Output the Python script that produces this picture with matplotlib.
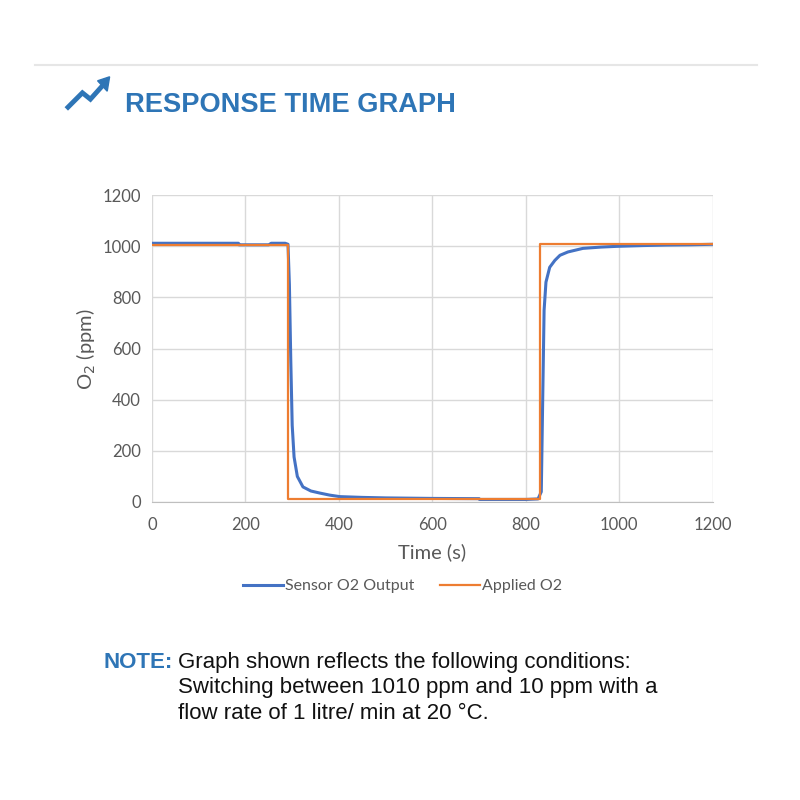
import matplotlib.pyplot as plt
from matplotlib.lines import Line2D
from matplotlib.patches import Polygon

# sensor output (time s, O2 ppm)
sensor_t = [0, 100, 185, 186, 250, 255, 285, 291, 294, 297, 300, 304, 311, 323, 340,
            359, 380, 402, 450, 500, 600, 700, 701, 800, 826, 833, 836, 839, 843,
            851, 862, 873, 890, 922, 960, 995, 1050, 1100, 1150, 1200]
sensor_o2 = [1012, 1012, 1012, 1006, 1006, 1012, 1012, 1008, 850, 550, 300, 176, 100,
             59, 43, 35, 27, 21, 18, 16, 14, 13, 10, 10, 12, 40, 400, 750, 860,
             918, 945, 965, 978, 992, 997, 1000, 1003, 1005, 1006, 1008]

# applied O2 step profile
applied_t = [0, 291, 291, 830, 830, 1200]
applied_o2 = [1005, 1005, 10, 10, 1010, 1010]

blue = '#2e75b6'
sans = ['Liberation Sans', 'DejaVu Sans']
calib = ['Lato', 'DejaVu Sans']

fig = plt.figure(figsize=(8, 8), dpi=100)

# header line, icon and title
fig.add_artist(Line2D([0.044, 0.946], [0.919, 0.919], color='#e6e6e6', lw=1.5))
fig.add_artist(Line2D([0.085, 0.103, 0.113, 0.130], [0.866, 0.884, 0.876, 0.895],
                      color=blue, lw=3.5, solid_joinstyle='miter'))
fig.add_artist(Polygon([[0.137, 0.904], [0.122, 0.899], [0.134, 0.886]],
                       closed=True, color=blue))
fig.text(0.156, 0.869, 'RESPONSE TIME GRAPH', color=blue, fontsize=19.6,
         fontweight='bold', family=sans, va='center')

ax = fig.add_axes([0.19, 0.3725, 0.701, 0.3835])
ax.plot(sensor_t, sensor_o2, color='#4472c4', lw=2.2, label='Sensor O2 Output', zorder=3)
ax.plot(applied_t, applied_o2, color='#ed7d31', lw=1.6, label='Applied O2', zorder=4)

ax.set_xlim(0, 1200)
ax.set_ylim(0, 1200)
ax.set_xticks(range(0, 1201, 200))
ax.set_yticks(range(0, 1201, 200))
ax.grid(True, color='#d9d9d9', lw=1)
ax.set_axisbelow(True)
for s in ['top', 'right', 'left']:
    ax.spines[s].set_visible(False)
ax.spines['bottom'].set_color('#bfbfbf')
ax.tick_params(length=0, labelsize=12, labelcolor='#595959')
ax.tick_params(axis='x', pad=11)
ax.tick_params(axis='y', pad=8)
for lab in ax.get_xticklabels() + ax.get_yticklabels():
    lab.set_family(calib)

ax.set_xlabel('Time (s)', fontsize=14.5, color='#595959', family=calib, labelpad=7)
ax.set_ylabel('O$_2$ (ppm)', fontsize=14.5, color='#595959', family=calib, labelpad=3)

leg = ax.legend(loc='upper center', bbox_to_anchor=(0.447, -0.205), ncol=2, frameon=False,
                fontsize=11.5, handlelength=2.5, columnspacing=1.6, handletextpad=0.15)
for t in leg.get_texts():
    t.set_color('#595959')
    t.set_family(calib)

# note under the chart
fig.text(0.129, 0.172, 'NOTE:', color=blue, fontsize=16, fontweight='bold',
         family=sans, va='center')
note_lines = ['Graph shown reflects the following conditions:',
              'Switching between 1010 ppm and 10 ppm with a',
              'flow rate of 1 litre/ min at 20 \u00b0C.']
for i, line in enumerate(note_lines):
    fig.text(0.222, 0.172 - i * 0.032, line, color='#111111', fontsize=16,
             family=sans, va='center')

fig.savefig('out.png', dpi=100, facecolor='white')
